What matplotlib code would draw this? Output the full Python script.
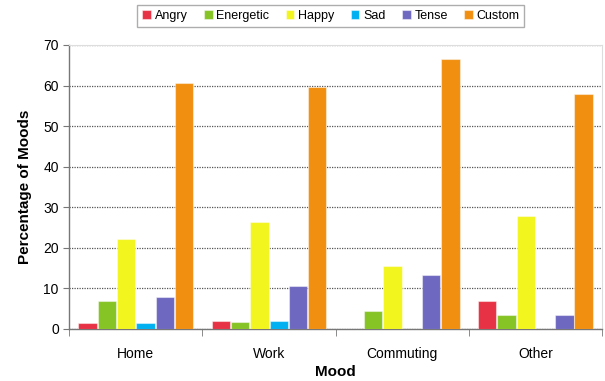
import numpy as np
import matplotlib.pyplot as plt

plt.rcParams["font.family"] = ["Liberation Sans", "DejaVu Sans"]

places = ["Home", "Work", "Commuting", "Other"]
moods = ["Angry", "Energetic", "Happy", "Sad", "Tense", "Custom"]
colors = ["#E63244", "#86C325", "#F2F51E", "#00B0F0", "#6E68C0", "#F18F10"]

angry = [1.5, 2.0, 0.0, 7.0]
energetic = [6.9, 1.7, 4.4, 3.4]
happy = [22.3, 26.3, 15.5, 27.9]
sad = [1.5, 2.0, 0.0, 0.0]
tense = [7.8, 10.6, 13.3, 3.4]
custom = [60.7, 59.7, 66.6, 57.8]
series = [angry, energetic, happy, sad, tense, custom]

fig = plt.figure(figsize=(6.05, 3.81), dpi=100)
ax = fig.add_axes([0.1145, 0.1365, 0.8805, 0.7455])

x = np.arange(len(places))
w = 0.145
for i, (vals, c) in enumerate(zip(series, colors)):
    ax.bar(x + (i - 2.5) * w, vals, w * 0.95, color=c, label=moods[i],
           edgecolor=(1, 1, 1, 0.45), linewidth=0.8, zorder=3)

ax.set_xlim(-0.5, 3.5)
ax.set_ylim(0, 70)
ax.set_yticks(range(0, 71, 10))
ax.yaxis.grid(True, linestyle=(0, (1, 1)), color="#555555", linewidth=0.9, zorder=0)

ax.set_xticks(x)
ax.set_xticklabels(places, fontsize=10)
ax.set_xticks(np.arange(-0.5, 4.0, 1.0), minor=True)
ax.tick_params(axis="x", which="major", length=0, pad=13)
ax.tick_params(axis="x", which="minor", length=5, color="#777777")
ax.tick_params(axis="y", length=4, color="#777777", labelsize=10)

for s in ["top", "right"]:
    ax.spines[s].set_color("#DDDDDD")
for s in ["left", "bottom"]:
    ax.spines[s].set_color("#777777")
    ax.spines[s].set_linewidth(1.0)

ax.set_ylabel("Percentage of Moods", fontsize=11, fontweight="bold", labelpad=8)
ax.set_xlabel("Mood", fontsize=11, fontweight="bold", labelpad=3)

leg = fig.legend(loc="center", bbox_to_anchor=(0.547, 0.959), ncol=6, fontsize=9,
                 frameon=True, fancybox=False, handlelength=0.7, handleheight=0.7,
                 handletextpad=0.3, columnspacing=1.3, borderpad=0.4, borderaxespad=0)
leg.get_frame().set_edgecolor("#999999")
leg.get_frame().set_linewidth(1.0)

fig.savefig("out.png", dpi=100)
